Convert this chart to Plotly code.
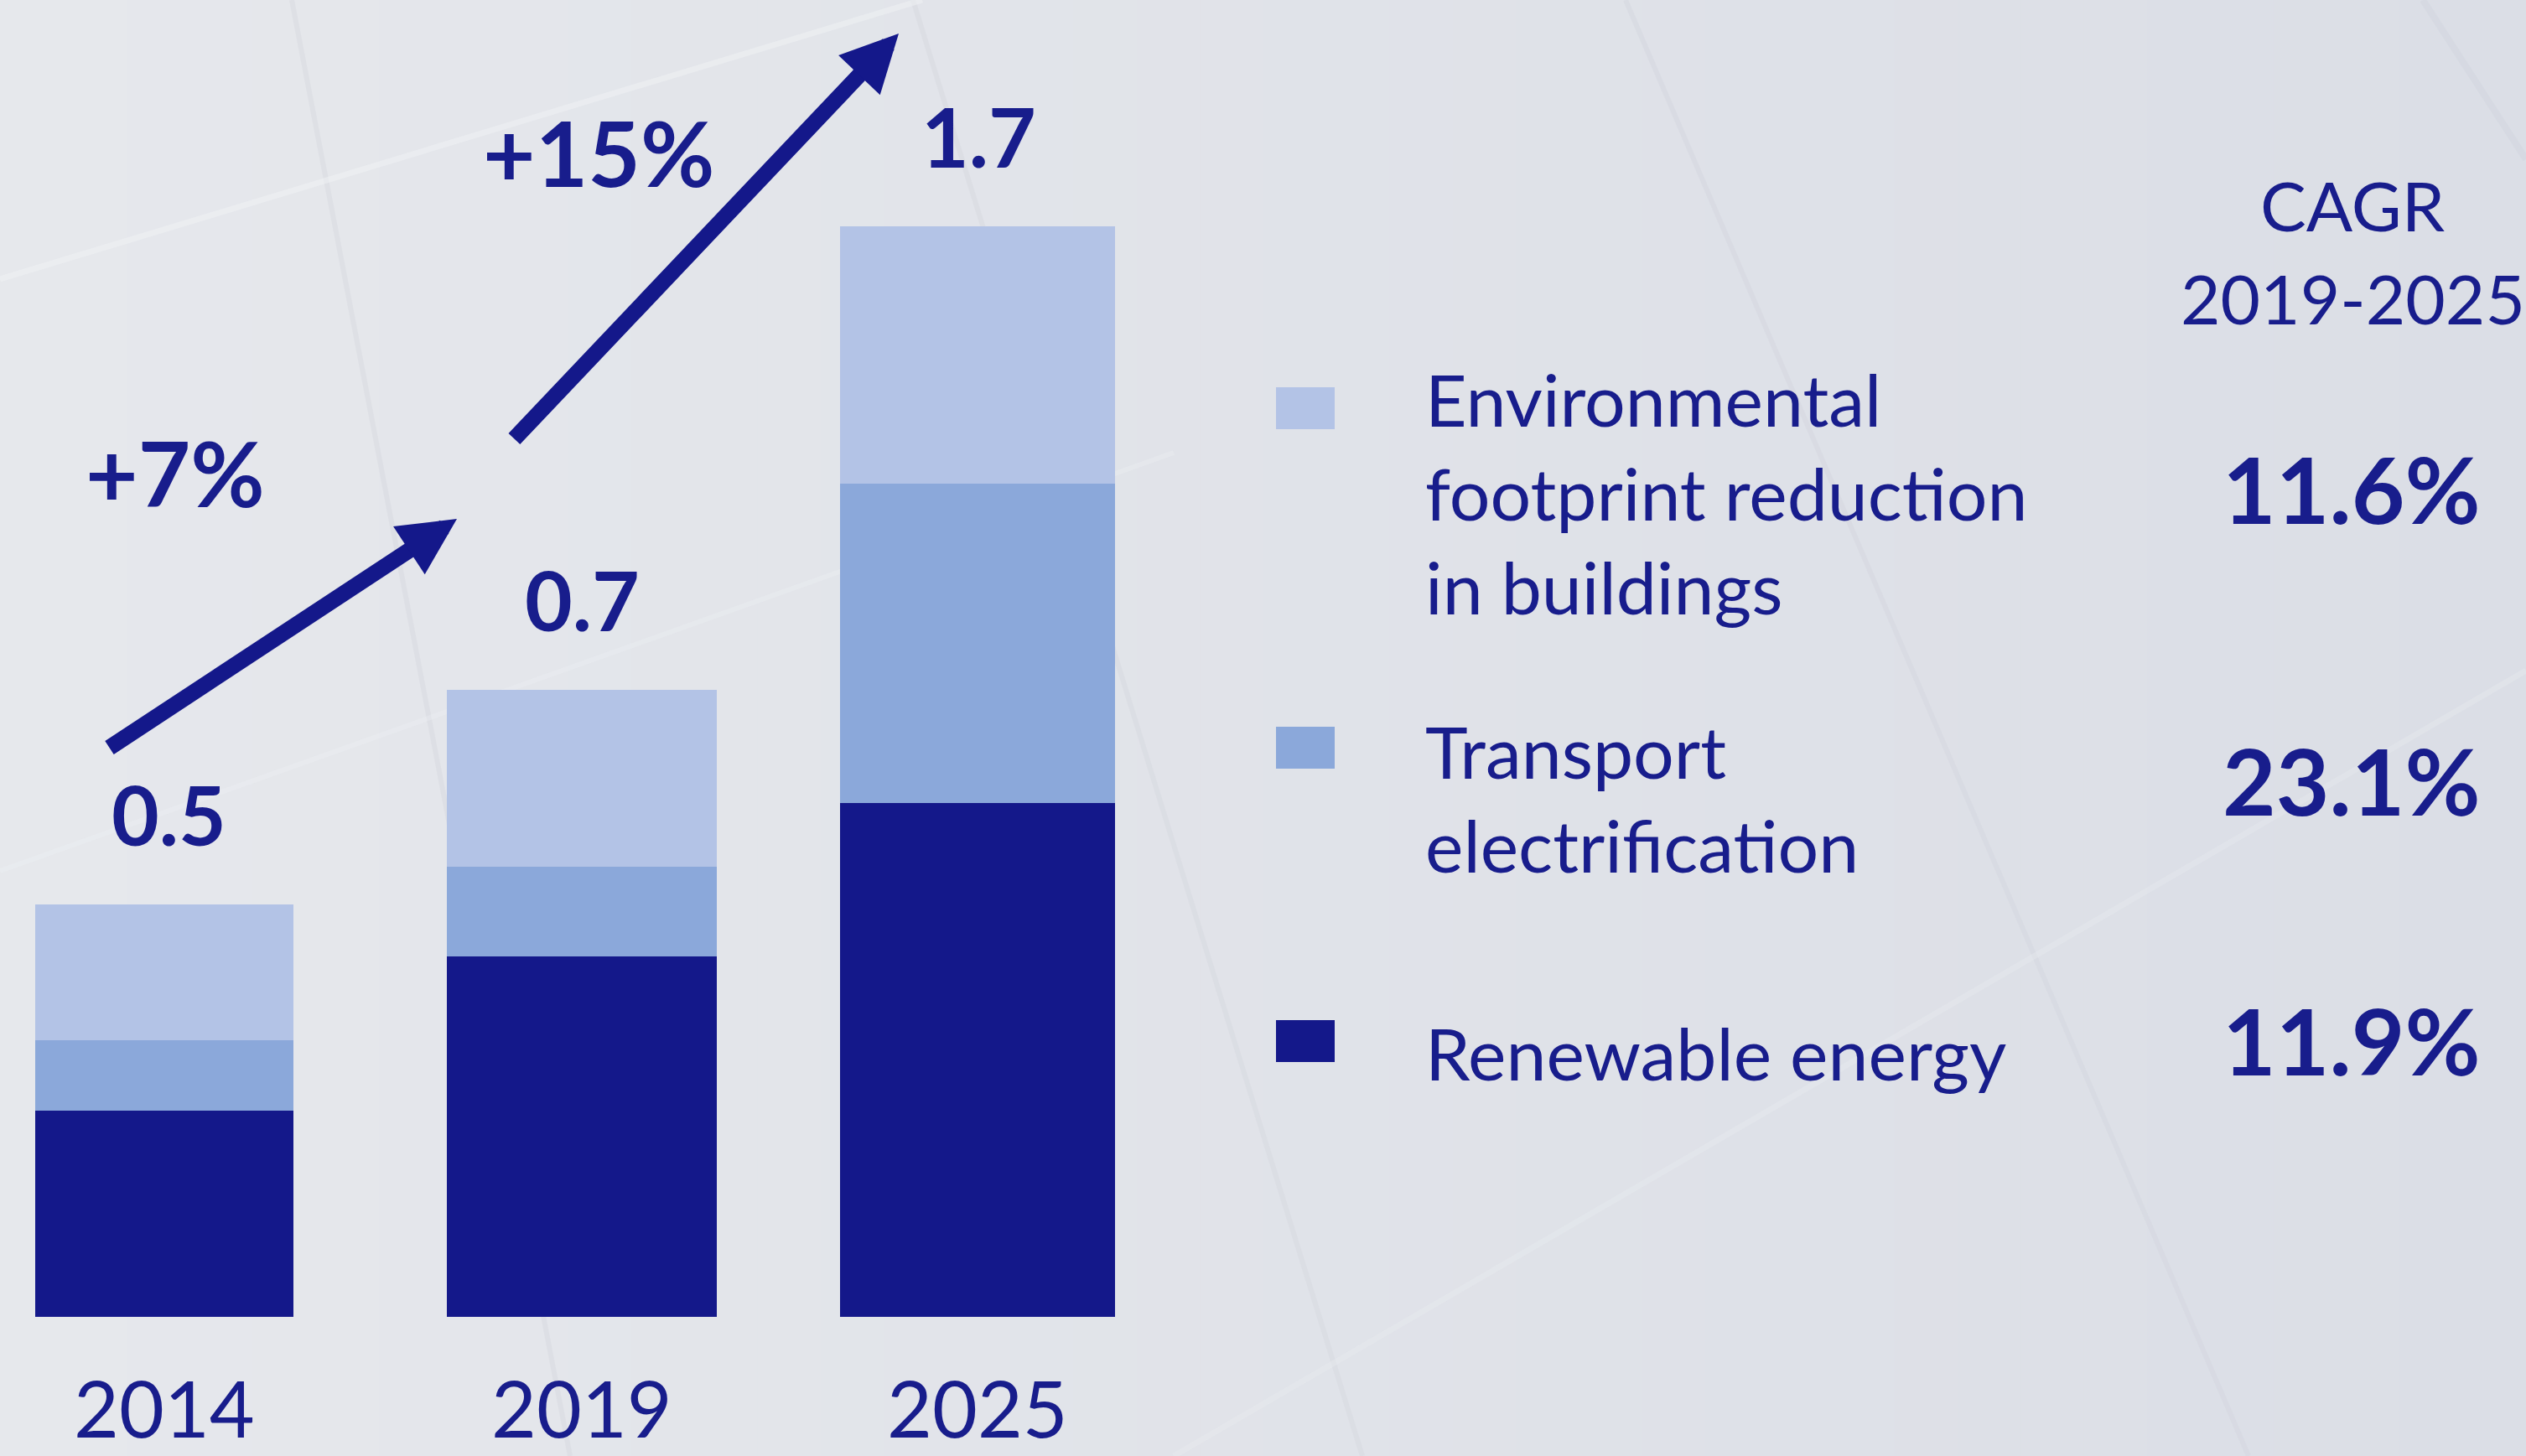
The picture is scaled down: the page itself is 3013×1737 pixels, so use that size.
import plotly.graph_objects as go

# ---------------- data ----------------
years = ["2014", "2019", "2025"]
renewable = [0.319, 0.558, 0.796]
transport = [0.110, 0.139, 0.495]
environment = [0.210, 0.275, 0.399]
total_labels = ["0.5", "0.7", "1.7"]
growth_labels = ["+7%", "+15%"]
segment_names = ["Environmental<br>footprint reduction<br>in buildings",
                 "Transport<br>electrification",
                 "Renewable energy"]
cagr_values = ["11.6%", "23.1%", "11.9%"]
cagr_title = ["CAGR", "2019-2025"]

# ---------------- styles ----------------
W, H = 3013, 1737
C_DARK = "#14188A"
C_MID = "#8BA8DA"
C_LIGHT = "#B3C3E6"
C_TEXT = "#181D8C"
FONT = "Lato"
bar_widths = [0.635, 0.664, 0.676]
bar_shift = [0.0, 0.027, 0.0]
bar_offsets = [-w / 2 + s for w, s in zip(bar_widths, bar_shift)]
label_shift = [0.012, 0.0, 0.004]

# axis geometry (category spacing in px, baseline)
X0_PX, STEP_PX = 196, 485
BASE_PX, UNIT_PX = 1571, 770
xr = [-X0_PX / STEP_PX, (W - X0_PX) / STEP_PX]
yrange = [-(H - BASE_PX) / UNIT_PX, BASE_PX / UNIT_PX]


def dx(px):
    return (px - X0_PX) / STEP_PX


def dy(py):
    return (BASE_PX - py) / UNIT_PX


def px_(px):
    return px / W


def py_(py):
    return 1 - py / H


fig = go.Figure()
for vals, col, nm in [(renewable, C_DARK, segment_names[2]),
                      (transport, C_MID, segment_names[1]),
                      (environment, C_LIGHT, segment_names[0])]:
    fig.add_trace(go.Bar(x=years, y=vals, width=bar_widths, offset=bar_offsets,
                         name=nm, marker=dict(color=col, line=dict(width=0)),
                         showlegend=False, hoverinfo="skip"))

shapes = []
# background gradient (left lighter -> right slightly bluish grey)
c_left = (230, 232, 236)
c_right = (219, 222, 230)
n = 40
for i in range(n):
    t = i / (n - 1)
    c = tuple(round(a + (b - a) * t) for a, b in zip(c_left, c_right))
    shapes.append(dict(type="rect", xref="paper", yref="paper",
                       x0=i / n, x1=(i + 1) / n + 0.002, y0=0, y1=1,
                       fillcolor="rgb(%d,%d,%d)" % c, line=dict(width=0),
                       layer="below"))
# faint decorative lines of the slide background
for (x0, y0, x1, y1, col, w) in [
        (348, 0, 680, 1737, "rgba(212,215,222,0.45)", 6),
        (1089, 0, 1625, 1737, "rgba(212,215,222,0.45)", 6),
        (1939, 0, 2682, 1737, "rgba(210,213,222,0.45)", 6),
        (2890, 0, 3013, 190, "rgba(210,213,224,0.6)", 8),
        (0, 333, 1100, 0, "rgba(242,243,246,0.45)", 7),
        (0, 1039, 1400, 540, "rgba(240,241,245,0.3)", 6),
        (1400, 1737, 3013, 800, "rgba(236,238,243,0.3)", 7)]:
    shapes.append(dict(type="line", xref="paper", yref="paper",
                       x0=px_(x0), y0=py_(y0), x1=px_(x1), y1=py_(y1),
                       line=dict(color=col, width=w), layer="below"))

# legend markers
leg_colors = [C_LIGHT, C_MID, C_DARK]
leg_marker_y = [487, 892, 1242]
for col, yc in zip(leg_colors, leg_marker_y):
    shapes.append(dict(type="rect", xref="paper", yref="paper",
                       x0=px_(1522), x1=px_(1592), y0=py_(yc - 25), y1=py_(yc + 25),
                       fillcolor=col, line=dict(width=0)))

ann = []
totals = [a + b + c for a, b, c in zip(renewable, transport, environment)]
for i, (tot, lab) in enumerate(zip(totals, total_labels)):
    xc = i + bar_shift[i]
    ann.append(dict(x=xc + label_shift[i], y=tot + 0.14, xref="x", yref="y", text=lab,
                    showarrow=False, xanchor="center", yanchor="middle",
                    font=dict(family=FONT, size=98, color=C_TEXT, weight="bold")))
    ann.append(dict(x=xc, y=dy(1736), xref="x", yref="y", text=years[i],
                    showarrow=False, xanchor="center", yanchor="bottom", borderpad=0,
                    font=dict(family=FONT, size=93, color=C_TEXT)))

# growth arrows
for (tx, ty, hx, hy) in [(129, 893, 545, 619), (612, 525, 1072, 40)]:
    ann.append(dict(x=dx(hx), y=dy(hy), ax=dx(tx), ay=dy(ty), xref="x", yref="y",
                    axref="x", ayref="y", text="", showarrow=True,
                    arrowhead=2, arrowsize=0.72, arrowwidth=19, arrowcolor=C_DARK))
for lab, (cx, cy) in zip(growth_labels, [(209, 563), (714, 181)]):
    ann.append(dict(x=px_(cx), y=py_(cy), xref="paper", yref="paper", text=lab,
                    showarrow=False, xanchor="center", yanchor="middle",
                    font=dict(family=FONT, size=108, color=C_TEXT, weight="bold")))

# right-hand legend & CAGR column
for lab, cy in zip(cagr_title, [244, 355]):
    ann.append(dict(x=px_(2806), y=py_(cy), xref="paper", yref="paper", text=lab,
                    showarrow=False, xanchor="center", yanchor="middle",
                    font=dict(family=FONT, size=82, color=C_TEXT)))
for nm, cy in zip(segment_names, [588, 951, 1255]):
    ann.append(dict(x=px_(1698), y=py_(cy), xref="paper", yref="paper", text=nm,
                    showarrow=False, xanchor="left", yanchor="middle", align="left",
                    font=dict(family=FONT, size=86, color=C_TEXT)))
for v, cy in zip(cagr_values, [582, 930, 1240]):
    ann.append(dict(x=px_(2805), y=py_(cy), xref="paper", yref="paper", text=v,
                    showarrow=False, xanchor="center", yanchor="middle",
                    font=dict(family=FONT, size=110, color=C_TEXT, weight="bold")))

fig.update_layout(
    width=W, height=H, margin=dict(l=0, r=0, t=0, b=0),
    barmode="stack", bargap=0,
    paper_bgcolor="rgb(225,228,233)", plot_bgcolor="rgba(0,0,0,0)",
    xaxis=dict(type="category", range=xr, visible=False, fixedrange=True),
    yaxis=dict(range=yrange, visible=False, fixedrange=True),
    shapes=shapes, annotations=ann, showlegend=False,
)

fig.write_html("out.html", config={"displayModeBar": False})
